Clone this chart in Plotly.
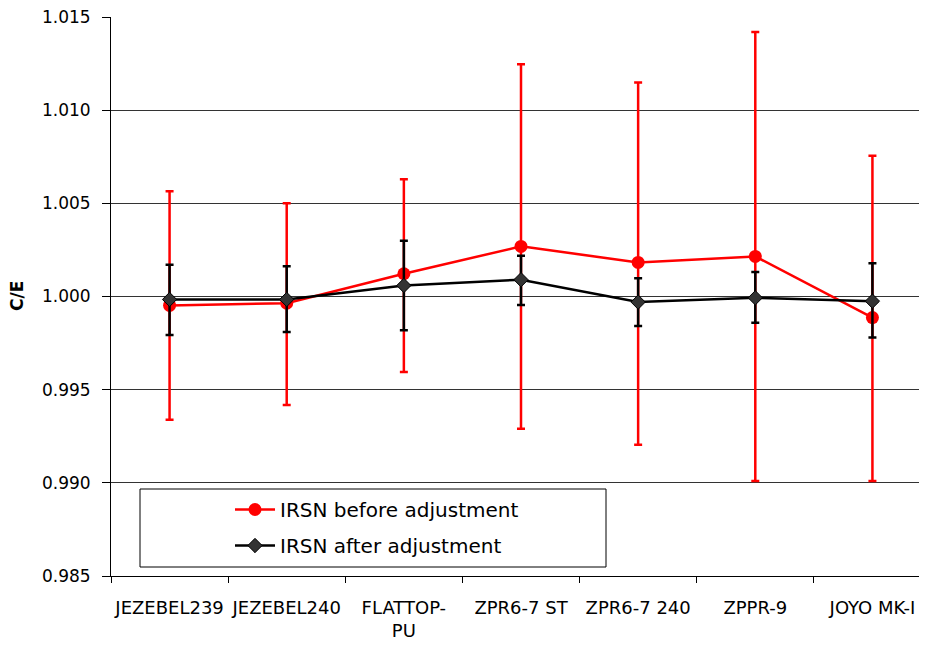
import plotly.graph_objects as go

categories = ["JEZEBEL239", "JEZEBEL240", "FLATTOP-<br>PU", "ZPR6-7 ST", "ZPR6-7 240", "ZPPR-9", "JOYO MK-I"]

before_val = [0.99952, 0.99964, 1.00122, 1.00269, 1.00183, 1.00215, 0.99887]
before_hi = [1.00565, 1.00500, 1.00629, 1.01246, 1.01149, 1.01420, 1.00756]
before_lo = [0.99339, 0.99418, 0.99595, 0.99290, 0.99204, 0.99010, 0.99010]

after_val = [0.99984, 0.99984, 1.00059, 1.00090, 0.99970, 0.99993, 0.99975]
after_hi = [1.00170, 1.00163, 1.00299, 1.00219, 1.00098, 1.00131, 1.00179]
after_lo = [0.99794, 0.99810, 0.99819, 0.99955, 0.99842, 0.99859, 0.99780]

y_ticks = [0.985, 0.990, 0.995, 1.000, 1.005, 1.010, 1.015]

def plus(v, h):
    return [a - b for a, b in zip(h, v)]

def minus(v, l):
    return [a - b for a, b in zip(v, l)]

FONT = "DejaVu Sans"

fig = go.Figure()
fig.add_trace(go.Scatter(
    x=categories, y=before_val, name="IRSN before adjustment",
    legendgroup="a",
    mode="lines+markers",
    line=dict(color="#ff0000", width=2.5),
    marker=dict(symbol="circle", size=13, color="#ff0000"),
    error_y=dict(type="data", symmetric=False,
                 array=plus(before_val, before_hi),
                 arrayminus=minus(before_val, before_lo),
                 color="#ff0000", thickness=2.5, width=4),
))
fig.add_trace(go.Scatter(
    x=categories, y=after_val, name="IRSN after adjustment",
    legendgroup="b",
    mode="lines+markers",
    line=dict(color="#000000", width=2.5),
    marker=dict(symbol="diamond", size=11, color="#333333",
                line=dict(color="#000000", width=1)),
    error_y=dict(type="data", symmetric=False,
                 array=plus(after_val, after_hi),
                 arrayminus=minus(after_val, after_lo),
                 color="#000000", thickness=2.5, width=4),
))

W, H = 927, 646
L, R, T, B = 103, 4, 9, 78
pw, ph = W - L - R, H - T - B

def px_x(x):
    return (x - L) / pw

def px_y(y):
    return (H - B - y) / ph

fig.add_shape(type="rect", xref="paper", yref="paper",
              x0=px_x(132), x1=px_x(598), y0=px_y(559), y1=px_y(481),
              line=dict(color="#000000", width=1), fillcolor="white", layer="above")

fig.add_annotation(text="<b>C/E</b>", xref="paper", yref="paper",
                   x=px_x(9), y=px_y(288), xanchor="center", yanchor="middle",
                   textangle=-90, showarrow=False,
                   font=dict(family=FONT, size=17, color="#000000"))

fig.update_layout(
    width=W, height=H, autosize=False,
    margin=dict(l=L, r=R, t=T, b=B, autoexpand=False),
    paper_bgcolor="white", plot_bgcolor="white",
    font=dict(family=FONT, size=17, color="#000000"),
    showlegend=True,
    legend=dict(x=px_x(222), y=px_y(482), xanchor="left", yanchor="top",
                bgcolor="rgba(0,0,0,0)", borderwidth=0, itemwidth=40,
                traceorder="grouped", tracegroupgap=7,
                font=dict(family=FONT, size=20)),
    xaxis=dict(type="category", tickson="boundaries", ticks="outside", ticklen=6,
               tickcolor="#000000", showline=True, linecolor="#000000", linewidth=1,
               showgrid=False, range=[-0.5, 6.5], ticklabelstandoff=15,
               tickangle=0, automargin=False,
               tickfont=dict(family=FONT, size=18)),
    yaxis=dict(range=[0.985, 1.015], tickvals=y_ticks,
               ticktext=[f"{v:.3f}" for v in y_ticks],
               ticks="outside", ticklen=8, tickcolor="#000000",
               showline=True, linecolor="#000000", linewidth=1,
               showgrid=True, gridcolor="#333333", gridwidth=1,
               zeroline=False, ticklabelstandoff=8, automargin=False,
               ticklabeloverflow="allow",
               tickfont=dict(family=FONT, size=17)),
)

fig.write_html("out.html")
